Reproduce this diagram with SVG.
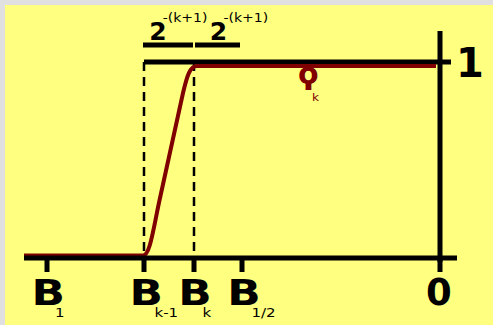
<svg xmlns="http://www.w3.org/2000/svg" width="493" height="325" viewBox="0 0 493 325">
<style>
.ax{stroke:#000;stroke-width:5;fill:none}
.tk{stroke:#000;stroke-width:5;fill:none}
.dash{stroke:#000;stroke-width:2.5;stroke-dasharray:9,6;fill:none}
.big{font-family:"DejaVu Sans",sans-serif;font-weight:bold;fill:#000}
.sub{font-family:"DejaVu Sans",sans-serif;fill:#000}
.red{stroke:#800000;stroke-width:4;fill:none}
</style>
<rect x="0" y="0" width="493" height="325" fill="#e0e0e0"/>
<rect x="5" y="5" width="488" height="320" fill="#ffff80"/>
<g id="connectors">
<path class="dash" d="M144,62 V258"/>
<path class="dash" d="M194,62 V258"/>
<path class="ax" d="M144,62 H451"/>
<path class="red" d="M24,255.5 H143 C150,255.5 153,230 160,198 L183,93 C187,76 190,66 197,66 H436"/>
<path class="ax" d="M24,258 H457"/>
<path class="ax" d="M440,31 V262"/>
<path class="tk" d="M47,258 V272 M144,258 V272 M194,258 V272 M242,258 V272 M440,258 V272"/>
<path class="tk" d="M143,45 H193 M195,45 H240" stroke-width="4"/>
</g>
<g id="top-labels">
<text class="big" x="149.3" y="39.5" font-size="25">2</text>
<text class="sub" font-size="12.5" transform="translate(162.7,21.5) scale(1.12,1)">-(k+1)</text>
<text class="big" x="209.8" y="39.5" font-size="25">2</text>
<text class="sub" font-size="12.5" transform="translate(223.5,21.5) scale(1.12,1)">-(k+1)</text>
</g>
<g id="one"><text class="big" x="456" y="77" font-size="40">1</text></g>
<g id="phi">
<text class="big" x="298" y="84" font-size="30" style="fill:#800000">ϙ</text>
<text class="sub" font-size="11" transform="translate(312,101) scale(1.1,1)" style="fill:#800000">k</text>
</g>
<g id="b1"><text class="big" font-size="36" transform="translate(31.5,304.5) scale(1.22,1)">B</text><text class="sub" font-size="12" transform="translate(55,317) scale(1.25,1)">1</text></g>
<g id="bk1"><text class="big" font-size="36" transform="translate(129.5,304.5) scale(1.22,1)">B</text><text class="sub" font-size="12" transform="translate(154.5,317) scale(1.25,1)">k-1</text></g>
<g id="bk"><text class="big" font-size="36" transform="translate(178.2,304.5) scale(1.22,1)">B</text><text class="sub" font-size="12" transform="translate(202.5,317) scale(1.25,1)">k</text></g>
<g id="bhalf"><text class="big" font-size="36" transform="translate(227.2,304.5) scale(1.22,1)">B</text><text class="sub" font-size="12" transform="translate(251.5,317) scale(1.25,1)">1/2</text></g>
<g id="zero"><text class="big" x="426" y="304.5" font-size="37">0</text></g>
</svg>
